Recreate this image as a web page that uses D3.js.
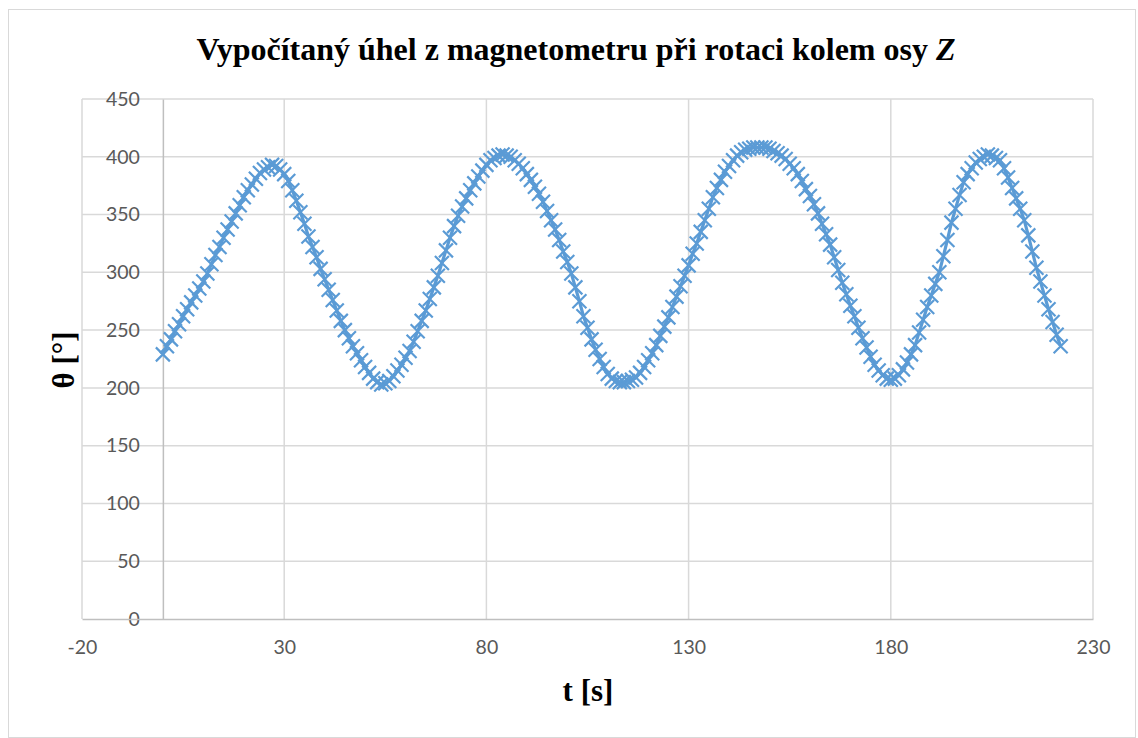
<!DOCTYPE html>
<html>
<head>
<meta charset="utf-8">
<script src="https://cdn.jsdelivr.net/npm/d3@7"></script>
<style>
  html, body { margin: 0; padding: 0; background: #fff; }
  svg { display: block; }
</style>
</head>
<body>
<svg id="chart" width="1138" height="738"></svg>
<script>
// Sampling of the rotation record: one reading per second from t = 0 s
const startTime = 0;
const sampleStep = 1;

// Angle computed from the magnetometer [deg]
const angleDeg = [
  229, 236, 242, 249, 255, 262, 268, 274, 280, 286, 292,
  299, 307, 315, 322, 330, 337, 344, 351, 358, 365,
  371, 376, 381, 386, 389, 391, 393, 392, 389, 385,
  379, 371, 362, 352, 342, 331, 322, 313, 303, 294,
  285, 276, 267, 258, 250, 243, 236, 230, 224, 218, 213,
  208, 205, 203, 204, 206, 210, 215, 220, 226, 232,
  240, 249, 258, 267, 277, 287, 297, 308, 319, 330, 340,
  349, 357, 364, 371, 377, 383, 388, 393, 397, 399, 401,
  402, 401, 400, 397, 394, 390, 385, 380, 374, 368,
  361, 353, 345, 337, 328, 318, 309, 299, 287, 275, 262,
  252, 242, 233, 225, 218, 212, 208, 206, 205, 205,
  206, 207, 209, 213, 218, 224, 230, 237, 245, 253, 261,
  270, 279, 288, 297, 306, 316, 325, 335, 345, 355, 365,
  373, 380, 387, 392, 397, 401, 404, 406, 407, 408, 408, 408, 408,
  407, 405, 403, 401, 398, 394, 390, 385, 379, 372, 366, 359,
  351, 342, 333, 324, 313, 302, 291, 281, 271, 262, 252,
  243, 235, 227, 220, 215, 211, 208, 207, 208, 211,
  216, 222, 229, 237, 248, 259, 270, 280, 290, 300,
  314, 328, 343, 355, 367, 378, 385, 390, 395, 398, 400, 402,
  401, 399, 397, 390, 382, 373, 364, 355, 345, 332, 318, 304,
  292, 280, 268, 257, 246, 236
];

const xTicks = [-20, 30, 80, 130, 180, 230];
const yTicks = [0, 50, 100, 150, 200, 250, 300, 350, 400, 450];

const titleMain = "Vypočítaný úhel z magnetometru při rotaci kolem osy ";
const titleItalic = "Z";
const xTitle = "t [s]";
const yTitle = "θ [°]";

const data = angleDeg.map((v, i) => ({ t: startTime + i * sampleStep, v }));

const svg = d3.select("#chart");
const color = "#5b9bd5";
const gridColor = "#d9d9d9";
const axisColor = "#bfbfbf";
const labelColor = "#595959";
const tickFont = "Lato, 'Open Sans', sans-serif";
const serif = "'Liberation Serif', 'Times New Roman', serif";

// Chart frame
svg.append("rect")
  .attr("x", 8.5).attr("y", 9.5)
  .attr("width", 1127).attr("height", 728)
  .attr("fill", "#fff")
  .attr("stroke", gridColor).attr("stroke-width", 1);

const x = d3.scaleLinear().domain([-20, 230]).range([82, 1093]);
const y = d3.scaleLinear().domain([0, 450]).range([619, 99]);

// Gridlines
const grid = svg.append("g");
grid.selectAll("line.h").data(yTicks.filter(d => d !== 0)).join("line")
  .attr("x1", x(-20)).attr("x2", x(230))
  .attr("y1", d => y(d)).attr("y2", d => y(d))
  .attr("stroke", gridColor).attr("stroke-width", 1.5);
grid.selectAll("line.v").data(xTicks).join("line")
  .attr("x1", d => x(d)).attr("x2", d => x(d))
  .attr("y1", y(0)).attr("y2", y(450))
  .attr("stroke", gridColor).attr("stroke-width", 1.5);

// Axes crossing at the origin
const yAxis = d3.axisLeft(y).tickValues(yTicks).tickSize(0).tickPadding(23)
  .tickFormat(d => String(d));
const gy = svg.append("g").attr("transform", `translate(${x(0)},0)`).call(yAxis);
gy.select(".domain").attr("stroke", axisColor).attr("stroke-width", 1.5);
gy.selectAll("text")
  .attr("fill", labelColor)
  .style("font-family", tickFont)
  .style("font-size", "19.5px");

const xAxis = d3.axisBottom(x).tickValues(xTicks).tickSize(0).tickPadding(21)
  .tickFormat(d => String(d));
const gx = svg.append("g").attr("transform", `translate(0,${y(0)})`).call(xAxis);
gx.select(".domain").attr("stroke", axisColor).attr("stroke-width", 1.5);
gx.selectAll("text")
  .attr("fill", labelColor)
  .style("font-family", tickFont)
  .style("font-size", "19.5px");

// Series line
svg.append("path")
  .datum(data)
  .attr("fill", "none")
  .attr("stroke", color)
  .attr("stroke-width", 3.2)
  .attr("stroke-linejoin", "round")
  .attr("d", d3.line().x(d => x(d.t)).y(d => y(d.v)));

// Cross markers
const m = 7;
svg.append("g").selectAll("path").data(data).join("path")
  .attr("transform", d => `translate(${x(d.t)},${y(d.v)})`)
  .attr("d", `M${-m},${-m}L${m},${m}M${-m},${m}L${m},${-m}`)
  .attr("stroke", color)
  .attr("stroke-width", 2.2)
  .attr("fill", "none");

// Titles
const title = svg.append("text")
  .attr("x", 576).attr("y", 60)
  .attr("text-anchor", "middle")
  .style("font-family", serif)
  .style("font-weight", "bold")
  .style("font-size", "32px")
  .attr("fill", "#000");
title.append("tspan").text(titleMain);
title.append("tspan").style("font-style", "italic").text(titleItalic);

svg.append("text")
  .attr("x", 588).attr("y", 701)
  .attr("text-anchor", "middle")
  .style("font-family", serif)
  .style("font-weight", "bold")
  .style("font-size", "31px")
  .attr("fill", "#000")
  .text(xTitle);

svg.append("text")
  .attr("transform", "translate(74,360) rotate(-90)")
  .attr("text-anchor", "middle")
  .style("font-family", serif)
  .style("font-weight", "bold")
  .style("font-size", "31px")
  .attr("fill", "#000")
  .text(yTitle);
</script>
</body>
</html>
